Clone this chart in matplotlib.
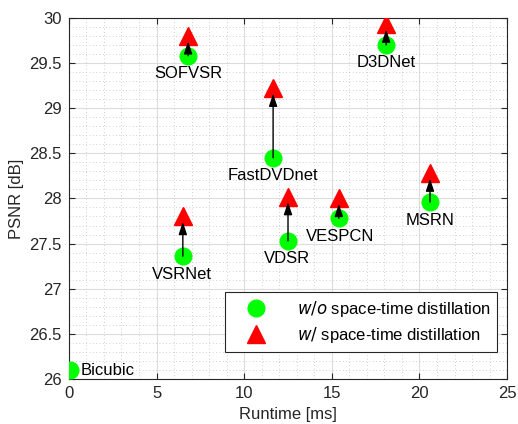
import numpy as np
import matplotlib
matplotlib.use('Agg')
import matplotlib.pyplot as plt
from matplotlib.ticker import MultipleLocator, FuncFormatter

methods = ['Bicubic', 'VSRNet', 'SOFVSR', 'FastDVDnet', 'VDSR', 'VESPCN', 'D3DNet', 'MSRN']
runtime = [0.05, 6.5, 6.8, 11.65, 12.5, 15.4, 18.1, 20.6]
psnr_wo = [26.10, 27.36, 29.58, 28.45, 27.53, 27.78, 29.70, 27.96]
psnr_w = [None, 27.80, 29.80, 29.22, 28.02, 28.00, 29.93, 28.28]
# label offsets in points (dx, dy)
label_off = [(8, 0), (-1, -13), (0, -13), (0, -13), (-1, -13), (1, -13), (0, -13), (0, -13)]

plt.rcParams['font.family'] = ['Liberation Sans', 'DejaVu Sans']

fig = plt.figure(figsize=(5.18, 4.24), dpi=100)
ax = fig.add_axes([0.133, 0.106, 0.846, 0.852])

ax.set_xlim(0, 25)
ax.set_ylim(26, 30)
ax.xaxis.set_major_locator(MultipleLocator(5))
ax.xaxis.set_minor_locator(MultipleLocator(1))
ax.yaxis.set_major_locator(MultipleLocator(0.5))
ax.yaxis.set_minor_locator(MultipleLocator(0.1))
fmt = FuncFormatter(lambda v, p: '%g' % v)
ax.xaxis.set_major_formatter(fmt)
ax.yaxis.set_major_formatter(fmt)
ax.grid(which='major', color='#dcdcdc', linewidth=0.8)
ax.grid(which='minor', color='#c0c0c0', linestyle=(0, (1, 3)), linewidth=0.6)
ax.set_axisbelow(True)
ax.tick_params(which='both', direction='in', top=True, right=True, labelsize=12, colors='#262626')
ax.tick_params(which='major', length=4, pad=5)
ax.tick_params(which='minor', length=0)
for s in ax.spines.values():
    s.set_color('#262626')
    s.set_linewidth(0.8)

for x, y0, y1 in zip(runtime, psnr_wo, psnr_w):
    if y1 is None:
        continue
    ax.annotate('', xy=(x, y1 - 0.06), xytext=(x, y0),
                arrowprops=dict(arrowstyle='-|>,head_length=0.75,head_width=0.25',
                                color='black', lw=1, shrinkA=0, shrinkB=0), zorder=4)

ax.plot(runtime, psnr_wo, 'o', color='#00ff00', markersize=12, linestyle='none',
        zorder=3, label=r'$\it{w/o}$ space-time distillation')
xw = [x for x, y in zip(runtime, psnr_w) if y is not None]
yw = [y for y in psnr_w if y is not None]
ax.plot(xw, yw, '^', color='#ff0000', markersize=13, linestyle='none',
        zorder=3, label=r'$\it{w/}$ space-time distillation')

for name, x, y, (dx, dy) in zip(methods, runtime, psnr_wo, label_off):
    ha = 'left' if dx > 3 else 'center'
    ax.annotate(name, (x, y), xytext=(dx, dy), textcoords='offset points',
                ha=ha, va='center', fontsize=12, zorder=5)

leg = ax.legend(loc='lower right', bbox_to_anchor=(0.978, 0.076), fontsize=12,
                frameon=True, fancybox=False, edgecolor='#262626', framealpha=1,
                borderpad=0.4, labelspacing=0.35, handlelength=2.9, handletextpad=1.0,
                borderaxespad=0)
leg.get_frame().set_linewidth(0.8)

ax.set_xlabel('Runtime [ms]', fontsize=12, color='#262626')
ax.set_ylabel('PSNR [dB]', fontsize=12, color='#262626')

plt.savefig('out.png', dpi=100)
print("done")
